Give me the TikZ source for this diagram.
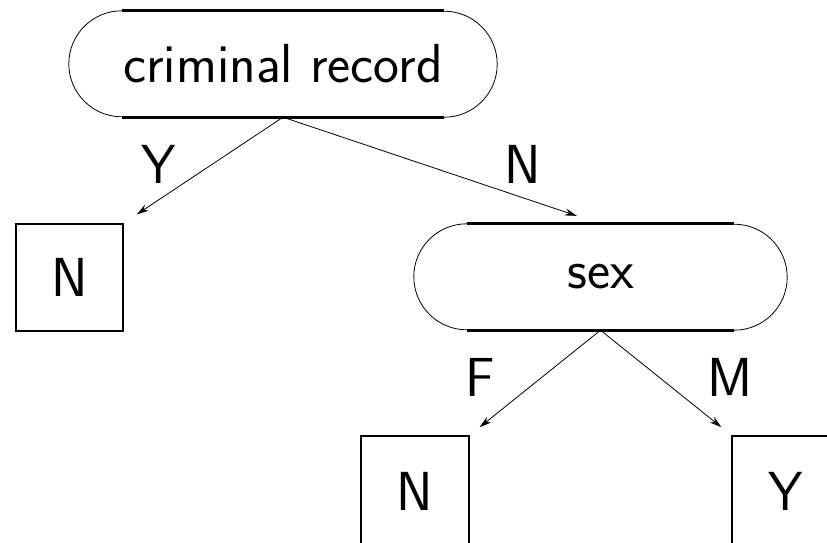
\documentclass[tikz,border=0pt]{standalone}
\usepackage{tikz}
\usetikzlibrary{arrows.meta,calc,positioning}

\tikzstyle{test} = [rectangle, inner sep=0pt, text centered,
                    font=\sffamily\fontsize{55}{60}\selectfont]
\tikzstyle{leaf} = [rectangle, draw, line width=2.6pt, inner sep=0pt,
                    minimum width=107pt, minimum height=107pt, text centered,
                    font=\sffamily\fontsize{55}{60}\selectfont]
\tikzstyle{branch} = [font=\sffamily\fontsize{55}{60}\selectfont]
\tikzstyle{thinline} = [line width=0.8pt]
\tikzstyle{thickline} = [line width=3pt]
\tikzstyle{arrow} = [line width=0.8pt, -{Stealth[length=12pt,width=7pt]}]

\begin{document}
\begin{tikzpicture}[x=1pt, y=-1pt]
    \useasboundingbox (0,0) rectangle (827,542);

    % tests
    \node[test, minimum width=428pt, minimum height=106pt] (root) at (283,64) {criminal record};
    \node[test, minimum width=373pt, minimum height=106pt] (sex) at (600.5,277) {sex};

    % leaves (the lower two run past the page edge)
    \node[leaf] (leafA) at (69.5,277.5) {N};
    \node[leaf, minimum width=108pt, minimum height=114pt] (leafB) at (415,493) {\raisebox{4pt}{N}};
    \node[leaf, minimum width=108pt, minimum height=114pt] (leafC) at (786,493) {\raisebox{4pt}{Y}};

    % rounded test outlines: thin ends, thick sides
    \foreach \n in {root,sex} {
        \draw[thinline] ($(\n.north west)+(53pt,0)$) arc[start angle=90, end angle=270, radius=53pt];
        \draw[thinline] ($(\n.south east)+(-53pt,0)$) arc[start angle=-90, end angle=90, radius=53pt];
        \draw[thickline] ($(\n.north west)+(53pt,0)$) -- ($(\n.north east)+(-53pt,0)$);
        \draw[thickline] ($(\n.south west)+(53pt,0)$) -- ($(\n.south east)+(-53pt,0)$);
    }

    % branch labels
    \node[branch] (lblY) at (158.5,164.5) {Y};
    \node[branch] (lblN) at (523,164.5) {N};
    \node[branch] (lblF) at (480,377.5) {F};
    \node[branch] (lblM) at (730,377.5) {M};

    % edges
    \draw[arrow, shorten >=15pt] (root.south) -- (leafA.north east);
    \draw[arrow, shorten >=25pt] (root.south) -- (sex.north);
    \draw[arrow, shorten >=12pt] (sex.south) -- (leafB.north east);
    \draw[arrow, shorten >=12pt] (sex.south) -- (leafC.north west);
\end{tikzpicture}
\end{document}
